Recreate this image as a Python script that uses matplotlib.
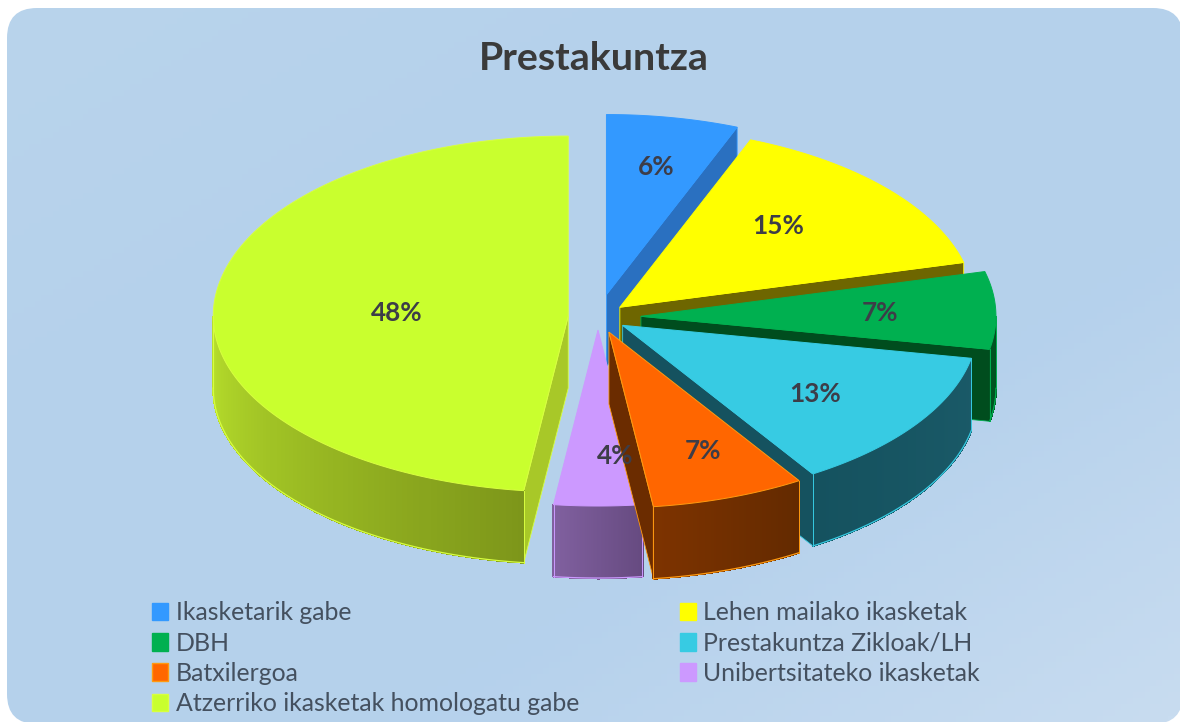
import numpy as np
import matplotlib
matplotlib.use('Agg')
import matplotlib.pyplot as plt
from matplotlib.colors import LinearSegmentedColormap, to_rgb
from matplotlib.patches import FancyBboxPatch, Patch, Polygon

categories = ['Ikasketarik gabe', 'Lehen mailako ikasketak', 'DBH', 'Prestakuntza Zikloak/LH',
              'Batxilergoa', 'Unibertsitateko ikasketak', 'Atzerriko ikasketak homologatu gabe']
values = [6, 15, 7, 13, 7, 4, 48]

top_colors = ['#3399ff', '#ffff00', '#00b050', '#37cbe3', '#ff6600', '#cc99ff', '#c9ff2e']
edge_colors = ['#3399ff', '#ffff00', '#00b050', '#37cbe3', '#ff9a10', '#cc99ff', '#d8ff40']
cut_colors = ['#2a70c0', '#6e6600', '#004d1e', '#15525f', '#6b2c00', '#664a80', '#a8c828']
wall_left = ['#2a70c0', '#6e6600', '#005522', '#15525f', '#7d3300', '#80609f', '#b8e02c']
wall_right = ['#2a70c0', '#6e6600', '#004d1e', '#1a5a68', '#632a00', '#664a80', '#7d961a']

explode = [0.127, 0.082, 0.121, 0.084, 0.091, 0.074, 0.084]
draw_order = [0, 1, 2, 3, 6, 5, 4]
label_xy = [(656, 167), (778, 226), (880, 313), (815, 394), (703, 451), (615, 456), (397, 313)]

cx, cy = 598, 317
rx, ry_back, ry_front = 355, 180, 176
depth = 72


def rim(t, tip):
    # t in degrees, clockwise from the top
    t = np.radians(t)
    ry = np.where(np.cos(t) > 0, ry_back, ry_front)
    return np.column_stack([tip[0] + rx * np.sin(t), tip[1] - ry * np.cos(t)])


fig = plt.figure(figsize=(11.8, 7.22), dpi=100, facecolor='white')
ax = fig.add_axes([0, 0, 1, 1])
ax.set_xlim(0, 1180)
ax.set_ylim(722, 0)
ax.axis('off')

# panel background
panel = FancyBboxPatch((35, 36), 1120, 660, boxstyle='round,pad=0,rounding_size=1', fc='none', ec='none')
panel.set_boxstyle('round', pad=28, rounding_size=30)
ax.add_patch(panel)
yy, xx = np.mgrid[0:1:120j, 0:1:200j]
grad = xx * 0.5 + yy * 0.5
cmap = LinearSegmentedColormap.from_list('panel', ['#b9d4ec', '#b5d1eb', '#b5d1ec', '#c8dcf0'])
im = ax.imshow(grad, extent=(0, 1180, 722, 0), cmap=cmap, aspect='auto', zorder=0)
im.set_clip_path(panel)
ax.set_xlim(0, 1180)
ax.set_ylim(722, 0)

ax.text(594, 59, 'Prestakuntza', ha='center', va='center', fontsize=28.4, fontweight='bold',
        family='Lato', color='#3a3a3a')

edges = np.cumsum([0] + values) * 360.0 / sum(values)

for z, i in enumerate(draw_order):
    t0, t1 = edges[i], edges[i + 1]
    mid = np.radians((t0 + t1) / 2)
    ry_mid = ry_back if np.cos(mid) > 0 else ry_front
    tip = (cx + explode[i] * rx * np.sin(mid), cy - explode[i] * ry_mid * np.cos(mid))
    base = 2 + z * 3

    # radial cut faces
    for t, visible in ((t0, np.sin(np.radians(t0)) < 0), (t1, np.sin(np.radians(t1)) > 0)):
        if visible:
            p = rim(t, tip)[0]
            pts = [tip, p, (p[0], p[1] + depth), (tip[0], tip[1] + depth)]
            ax.add_patch(Polygon(pts, fc=cut_colors[i], ec=edge_colors[i], lw=0.6, zorder=base))

    # outer wall, drawn as strips so it can carry a gradient
    a, b = max(t0, 90), min(t1, 270)
    if b > a:
        ts = np.linspace(a, b, 80)
        pts = rim(ts, tip)
        c_a, c_b = np.array(to_rgb(wall_right[i])), np.array(to_rgb(wall_left[i]))
        for k in range(len(ts) - 1):
            f = (k + 0.5) / (len(ts) - 1)
            col = c_a + (c_b - c_a) * f
            quad = [pts[k], pts[k + 1], pts[k + 1] + (0, depth), pts[k] + (0, depth)]
            ax.add_patch(Polygon(quad, fc=col, ec=col, lw=0.8, antialiased=False, zorder=base + 1))
        ax.plot(pts[:, 0], pts[:, 1] + depth, color=edge_colors[i], lw=0.9, zorder=base + 1)
        for p in (pts[0], pts[-1]):
            ax.plot([p[0], p[0]], [p[1], p[1] + depth], color=edge_colors[i], lw=0.7, zorder=base + 1)

    # top face
    arc = rim(np.linspace(t0, t1, 120), tip)
    ax.add_patch(Polygon(np.vstack([[tip], arc]), fc=top_colors[i], ec=edge_colors[i], lw=0.7, zorder=base + 2))

for xy, v in zip(label_xy, values):
    ax.text(xy[0], xy[1], f'{v}%', ha='center', va='center', fontsize=18.8, fontweight='bold',
            family='Lato', color='#3d3d48', zorder=40)

# legend fills column by column, the reference reads row by row
order = [0, 2, 4, 6, 1, 3, 5]
handles = [Patch(fc=top_colors[i], ec=edge_colors[i], label=categories[i]) for i in order]
leg = ax.legend(handles=handles, ncol=2, loc='lower left', bbox_to_anchor=(152 / 1180, 7 / 722),
                bbox_transform=fig.transFigure, frameon=False,
                prop={'family': 'Lato', 'size': 17.9}, labelspacing=0.29, handlelength=0.65, handleheight=0.7,
                handletextpad=0.3, columnspacing=4.05, borderpad=0, borderaxespad=0, labelcolor='#44505f')

fig.savefig('out.png', dpi=100, facecolor='white')
